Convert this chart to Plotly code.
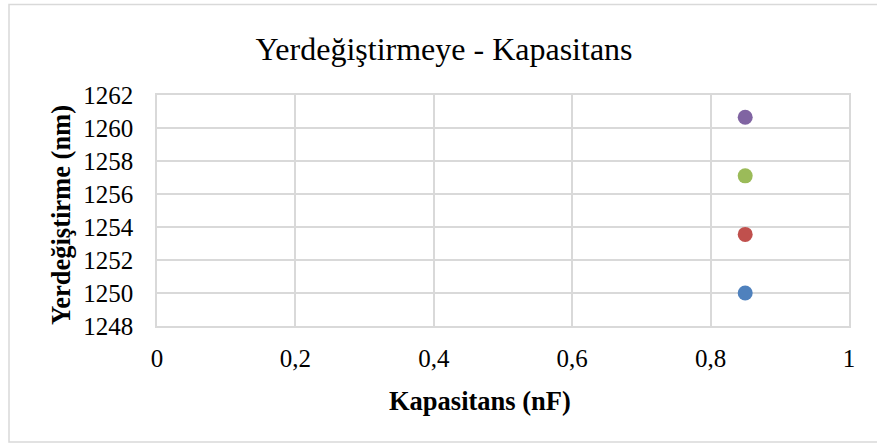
import plotly.graph_objects as go

# Excel-style scatter: one point per series, all at the same capacitance
KAPASITANS = [0.85, 0.85, 0.85, 0.85]
YERDEGISTIRME = [1250.0, 1253.55, 1257.1, 1260.65]
COLORS = ["#4F81BD", "#C0504D", "#9BBB59", "#8064A2"]

X_TICKS = [0, 0.2, 0.4, 0.6, 0.8, 1]
X_TICK_LABELS = ["0", "0,2", "0,4", "0,6", "0,8", "1"]
Y_TICKS = [1248, 1250, 1252, 1254, 1256, 1258, 1260, 1262]

FONT = "Liberation Serif"
GRID = "#D9D9D9"

fig = go.Figure()

for x, y, c in zip(KAPASITANS, YERDEGISTIRME, COLORS):
    fig.add_trace(
        go.Scatter(
            x=[x],
            y=[y],
            mode="markers",
            marker=dict(color=c, size=15, line=dict(width=0)),
            showlegend=False,
        )
    )

fig.update_layout(
    width=877,
    height=444,
    margin=dict(l=157, r=28, t=95, b=118),
    paper_bgcolor="white",
    plot_bgcolor="white",
    font=dict(family=FONT, color="black", size=25),
    title=dict(
        text="Yerdeğiştirmeye - Kapasitans",
        font=dict(family=FONT, size=32, color="black"),
        x=444 / 877,
        xanchor="center",
        y=1 - 49 / 444,
        yanchor="middle",
    ),
)

fig.update_xaxes(
    range=[0, 1],
    tickvals=X_TICKS,
    ticktext=X_TICK_LABELS,
    showgrid=True,
    gridcolor=GRID,
    gridwidth=1.6,
    showline=True,
    linecolor=GRID,
    linewidth=1.6,
    mirror=True,
    zeroline=False,
    ticks="",
    ticklabelstandoff=9,
    tickfont=dict(family=FONT, size=25, color="black"),
)

fig.update_yaxes(
    range=[1248, 1262],
    tickvals=Y_TICKS,
    showgrid=True,
    gridcolor=GRID,
    gridwidth=1.6,
    showline=True,
    linecolor=GRID,
    linewidth=1.6,
    mirror=True,
    zeroline=False,
    ticks="",
    ticklabelstandoff=17,
    tickfont=dict(family=FONT, size=25, color="black"),
)

# axis titles as annotations for exact placement
fig.add_annotation(
    text="<b>Kapasitans (nF)</b>",
    xref="paper", yref="paper",
    x=(480 - 157) / 692, y=(326 - 401) / 231,
    xanchor="center", yanchor="middle",
    showarrow=False,
    font=dict(family=FONT, size=26.5, color="black"),
)
fig.add_annotation(
    text="<b>Yerdeğiştirme (nm)</b>",
    xref="paper", yref="paper",
    x=(61 - 157) / 692, y=(326 - 215) / 231,
    xanchor="center", yanchor="middle",
    textangle=-90,
    showarrow=False,
    font=dict(family=FONT, size=26.5, color="black"),
)

# chart-area border
fig.add_shape(
    type="rect",
    xref="paper", yref="paper",
    x0=(9 - 157) / 692, x1=(882 - 157) / 692,
    y0=(326 - 442) / 231, y1=(326 - 4.5) / 231,
    line=dict(color=GRID, width=1.5),
    layer="below",
)

# drop the default page margin so the figure sits at the window origin
fig.write_html(
    "out.html",
    config={"displayModeBar": False},
    post_script="document.body.style.margin = '0';",
)
